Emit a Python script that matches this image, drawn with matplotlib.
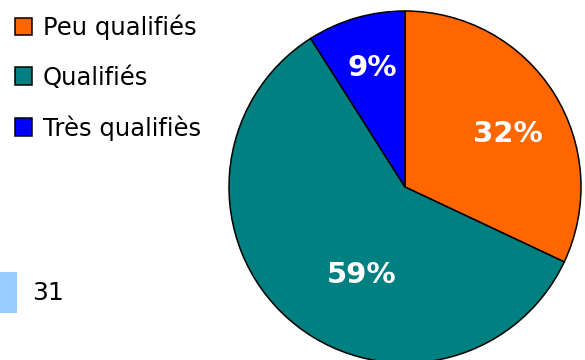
import numpy as np
import matplotlib.pyplot as plt

# niveaux de qualification
categories = ["Peu qualifiés", "Qualifiés", "Très qualifiès"]
values = [32, 59, 9]
colors = ["#FF6600", "#008080", "#0000FF"]
label_dist = [0.66, 0.56, 0.70]
label_shift = [-5, 15, -1]  # degres, placement des etiquettes
page_number = "31"

W, H = 585, 360
fig = plt.figure(figsize=(W / 100, H / 100), dpi=100)
ax = fig.add_axes([0, 0, 1, 1])
ax.set_xlim(0, W)
ax.set_ylim(0, H)
ax.axis("off")

cx, cy, r = 405, H - 187, 176
wedges, _ = ax.pie(values, colors=colors, startangle=90, counterclock=False,
                   center=(cx, cy), radius=r,
                   wedgeprops=dict(edgecolor="black", linewidth=1.1))
ax.set_xlim(0, W)
ax.set_ylim(0, H)

for w, v, d, s in zip(wedges, values, label_dist, label_shift):
    ang = np.deg2rad((w.theta1 + w.theta2) / 2 + s)
    ax.text(cx + d * r * np.cos(ang), cy + d * r * np.sin(ang), f"{v}%",
            ha="center", va="center", color="white", fontsize=21,
            fontweight="bold", family="DejaVu Sans")

fig.legend(wedges, categories, loc="upper left", bbox_to_anchor=(0.0, 1.0),
           frameon=False, prop=dict(family="DejaVu Sans", size=17.5),
           handlelength=0.72, handleheight=0.72, handletextpad=0.45,
           labelspacing=1.05, borderpad=0.35, borderaxespad=0.25)

# marque de page en bas a gauche
ax.add_patch(plt.Rectangle((0, H - 313), 16.5, 41, color="#99CCFF", lw=0))
ax.text(32, H - 293, page_number, ha="left", va="center", fontsize=18,
        family="DejaVu Sans", color="black")

fig.savefig("out.png", dpi=100)
